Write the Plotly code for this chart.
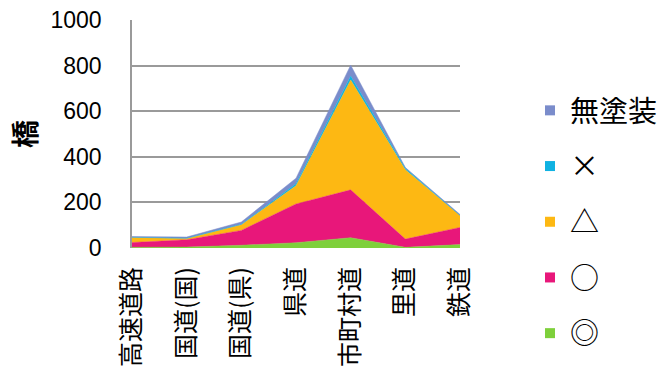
import plotly.graph_objects as go

categories = ["高速道路", "国道(国)", "国道(県)", "県道", "市町村道", "里道", "鉄道"]
series_names = ["◎", "○", "△", "×", "無塗装"]
s_double = [3, 4, 12, 23, 45, 3, 15]
s_circle = [21, 32, 65, 170, 210, 36, 75]
s_triangle = [22, 6, 25, 80, 482, 304, 52]
s_cross = [1, 1, 2, 9, 17, 7, 1]
s_unpainted = [3, 5, 10, 24, 48, 3, 4]
y_ticks = [0, 200, 400, 600, 800, 1000]

colors = ["#7ED03B", "#E8177A", "#FDB813", "#10B2E2", "#7A8CCB"]
values = [s_double, s_circle, s_triangle, s_cross, s_unpainted]

fig = go.Figure()
for name, vals, col in zip(series_names, values, colors):
    fig.add_trace(go.Scatter(
        x=categories, y=vals, name=name, stackgroup="one", mode="lines",
        line=dict(width=0.5, color=col), fillcolor=col, showlegend=False,
        hoverinfo="x+y+name"))

# legend entries (reversed order: 無塗装 at top)
for i, (name, col) in enumerate(zip(series_names, colors)):
    fig.add_trace(go.Scatter(
        x=[None], y=[None], name=name, mode="markers",
        marker=dict(symbol="square", size=10, color=col),
        legendgroup=name, legendrank=100 - i, showlegend=True))

font_jp = "Noto Sans CJK JP"
fig.update_layout(
    width=666, height=372,
    margin=dict(l=132, r=206, t=20, b=124, autoexpand=False),
    paper_bgcolor="white", plot_bgcolor="white",
    showlegend=True,
    legend=dict(x=(530 - 132) / 328, xanchor="left", y=1 - 222 / 372, yanchor="middle",
                yref="container", maxheight=1.0,
                font=dict(family=font_jp, size=29, color="black"),
                tracegroupgap=15, bgcolor="rgba(0,0,0,0)", itemclick=False),
    xaxis=dict(range=[0, 6], tickangle=-90, showgrid=False, showline=False,
               tickfont=dict(family=font_jp, size=25, color="black"),
               ticks="outside", ticklen=8, tickcolor="rgba(0,0,0,0)",
               zeroline=False, fixedrange=True),
    yaxis=dict(range=[0, 1000], tickvals=y_ticks, showgrid=True,
               gridcolor="#9A9A9A", gridwidth=1.6, showline=True,
               linecolor="#9A9A9A", linewidth=1.6, zeroline=False,
               tickfont=dict(family="Liberation Sans, Arial", size=23, color="black"),
               ticks="outside", ticklen=24, tickcolor="rgba(0,0,0,0)",
               fixedrange=True),
    annotations=[dict(text="<b>橋</b>", textangle=-90, xref="paper", yref="paper",
                      x=(24 - 132) / 328, y=0.5, xanchor="center", yanchor="middle",
                      showarrow=False,
                      font=dict(family=font_jp, size=28, color="black"))],
)

fig.write_html("out.html")
